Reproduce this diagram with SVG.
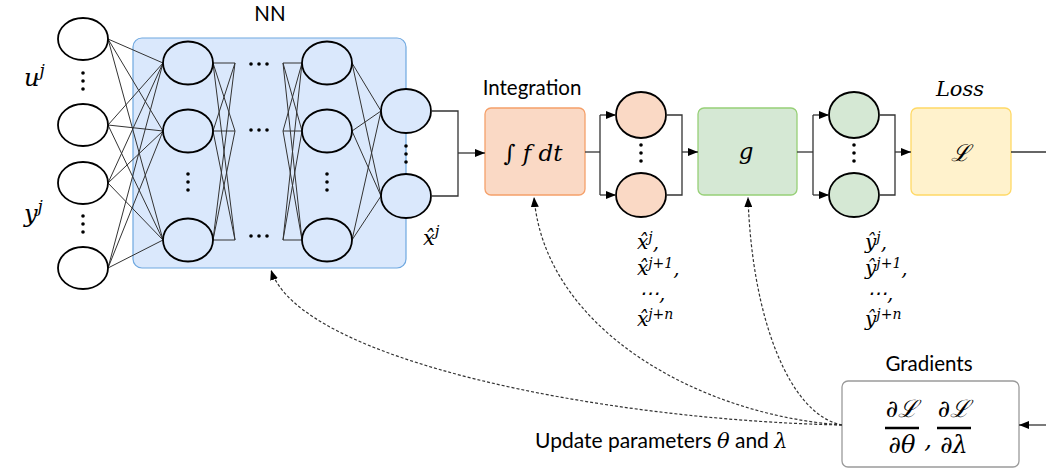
<svg xmlns="http://www.w3.org/2000/svg" width="1046" height="475" viewBox="0 0 1046 475">
<style>
.lbl{font-family:Lato,"Open Sans","Liberation Sans",sans-serif;font-size:20.5px;fill:#000}
.lbl2{font-family:Lato,"Open Sans","Liberation Sans",sans-serif;font-size:21px;fill:#000}
.m{font-family:"DejaVu Serif","Liberation Serif",serif;font-style:italic;fill:#000}
.s20{font-size:20px}
.s21{font-size:21px}
.s23{font-size:23px}
.s24{font-size:24px}
.sup{font-size:15px}
.sup1{font-size:14px}
.sup2{font-size:17px}
.node{stroke:#000;stroke-width:1.8}
.w{fill:#fff}
.b{fill:#dae8fc}
.o{fill:#fad9c5}
.gr{fill:#d5e8d4}
.nn{stroke:#333;stroke-width:1;fill:none}
.c{stroke:#333;stroke-width:1.3;fill:none}
.d{stroke:#333;stroke-width:1.2;fill:none;stroke-dasharray:3 2}
.dot{fill:#000}
</style>
<defs>
<marker id="arr" markerUnits="userSpaceOnUse" markerWidth="10" markerHeight="8" viewBox="0 0 10 8" refX="10" refY="4" orient="auto">
<path d="M0,0 L10,4 L0,8 z" fill="#000"/>
</marker>
</defs>

<!-- NN box -->
<g id="nn-box">
<rect x="133" y="38" width="273" height="230" rx="9" fill="#dae8fc" stroke="#6fa8e0" stroke-width="1.2"/>
<text class="lbl" x="270" y="21" text-anchor="middle">NN</text>
</g>

<!-- NN internal connections -->
<g id="nn-links">
<g class="nn">
<path d="M108,39 L163,63 M108,39 L163,131 M108,39 L163,240
M108,125 L163,63 M108,125 L163,131 M108,125 L163,240
M108,183 L163,63 M108,183 L163,131 M108,183 L163,240
M108,268 L163,63 M108,268 L163,131 M108,268 L163,240"/>
<path d="M213,63 L235,63 M213,63 L235,131 M213,63 L235,240
M213,131 L235,63 M213,131 L235,131 M213,131 L235,240
M213,240 L235,63 M213,240 L235,131 M213,240 L235,240"/>
<path d="M283,63 L302,63 M283,63 L302,131 M283,63 L302,240
M283,131 L302,63 M283,131 L302,131 M283,131 L302,240
M283,240 L302,63 M283,240 L302,131 M283,240 L302,240"/>
<path d="M352,63 L381,111 M352,63 L381,196
M352,131 L381,111 M352,131 L381,196
M352,240 L381,111 M352,240 L381,196"/>
</g>
</g>

<!-- input layer -->
<g id="input-layer">
<ellipse class="node w" cx="83" cy="39" rx="25" ry="21"/>
<ellipse class="node w" cx="83" cy="125" rx="25" ry="21"/>
<ellipse class="node w" cx="83" cy="183" rx="25" ry="21"/>
<ellipse class="node w" cx="83" cy="268" rx="25" ry="21"/>
<circle class="dot" cx="83" cy="73" r="1.8"/><circle class="dot" cx="83" cy="81" r="1.8"/><circle class="dot" cx="83" cy="89" r="1.8"/>
<circle class="dot" cx="83" cy="216" r="1.8"/><circle class="dot" cx="83" cy="224" r="1.8"/><circle class="dot" cx="83" cy="232" r="1.8"/>
<text class="m s24" x="24" y="86">u<tspan class="sup2" dy="-10">j</tspan></text>
<text class="m s24" x="24" y="222">y<tspan class="sup2" dy="-10">j</tspan></text>
</g>

<!-- hidden layer 1 -->
<g id="hidden-1">
<ellipse class="node b" cx="188" cy="63" rx="25" ry="21.5"/>
<ellipse class="node b" cx="188" cy="131" rx="25" ry="21.5"/>
<ellipse class="node b" cx="188" cy="240" rx="25" ry="21.5"/>
<circle class="dot" cx="188" cy="174" r="1.8"/><circle class="dot" cx="188" cy="182" r="1.8"/><circle class="dot" cx="188" cy="190" r="1.8"/>
</g>

<!-- horizontal ellipses -->
<g id="layer-dots">
<circle class="dot" cx="251" cy="64" r="1.8"/><circle class="dot" cx="259" cy="64" r="1.8"/><circle class="dot" cx="267" cy="64" r="1.8"/>
<circle class="dot" cx="251" cy="130" r="1.8"/><circle class="dot" cx="259" cy="130" r="1.8"/><circle class="dot" cx="267" cy="130" r="1.8"/>
<circle class="dot" cx="251" cy="236" r="1.8"/><circle class="dot" cx="259" cy="236" r="1.8"/><circle class="dot" cx="267" cy="236" r="1.8"/>
</g>

<!-- hidden layer last -->
<g id="hidden-n">
<ellipse class="node b" cx="327" cy="63" rx="25" ry="21.5"/>
<ellipse class="node b" cx="327" cy="131" rx="25" ry="21.5"/>
<ellipse class="node b" cx="327" cy="240" rx="25" ry="21.5"/>
<circle class="dot" cx="327" cy="174" r="1.8"/><circle class="dot" cx="327" cy="182" r="1.8"/><circle class="dot" cx="327" cy="190" r="1.8"/>
</g>

<!-- output layer -->
<g id="output-layer">
<ellipse class="node b" cx="406" cy="111" rx="25" ry="22"/>
<ellipse class="node b" cx="406" cy="196" rx="25" ry="22"/>
<circle class="dot" cx="406" cy="146" r="1.8"/><circle class="dot" cx="406" cy="154" r="1.8"/><circle class="dot" cx="406" cy="162" r="1.8"/>
<text class="m s21" x="423" y="245">x&#770;<tspan class="sup" dy="-9">j</tspan></text>
</g>

<!-- Integration -->
<g id="integration">
<text class="lbl" x="532" y="95" text-anchor="middle">Integration</text>
<rect x="485" y="108" width="100" height="87" rx="6" fill="#fad9c5" stroke="#f5a06a" stroke-width="1.3"/>
<text class="m s23" x="533" y="161" text-anchor="middle">∫ f dt</text>
</g>

<!-- x hat outputs -->
<g id="x-series">
<ellipse class="node o" cx="641" cy="115" rx="25" ry="23"/>
<ellipse class="node o" cx="641" cy="195" rx="25" ry="22"/>
<circle class="dot" cx="641" cy="145" r="1.8"/><circle class="dot" cx="641" cy="153" r="1.8"/><circle class="dot" cx="641" cy="161" r="1.8"/>
<text class="m s20"><tspan x="637" y="249">x&#770;</tspan><tspan class="sup1" dy="-7">j</tspan><tspan dy="7">,</tspan><tspan x="637" y="275">x&#770;</tspan><tspan class="sup1" dy="-7">j+1</tspan><tspan dy="7">,</tspan><tspan x="639" y="300">⋯,</tspan><tspan x="637" y="326">x&#770;</tspan><tspan class="sup1" dy="-7">j+n</tspan></text>
</g>

<!-- g -->
<g id="g-box">
<rect x="698" y="108" width="99" height="87" rx="6" fill="#d5e8d4" stroke="#97d077" stroke-width="1.3"/>
<text class="m s23" x="746" y="159" text-anchor="middle">g</text>
</g>

<!-- y hat outputs -->
<g id="y-series">
<ellipse class="node gr" cx="854" cy="115" rx="25" ry="23"/>
<ellipse class="node gr" cx="854" cy="195" rx="25" ry="22"/>
<circle class="dot" cx="854" cy="145" r="1.8"/><circle class="dot" cx="854" cy="153" r="1.8"/><circle class="dot" cx="854" cy="161" r="1.8"/>
<text class="m s20"><tspan x="865" y="249">y&#770;</tspan><tspan class="sup1" dy="-7">j</tspan><tspan dy="7">,</tspan><tspan x="865" y="275">y&#770;</tspan><tspan class="sup1" dy="-7">j+1</tspan><tspan dy="7">,</tspan><tspan x="867" y="300">⋯,</tspan><tspan x="865" y="326">y&#770;</tspan><tspan class="sup1" dy="-7">j+n</tspan></text>
</g>

<!-- Loss -->
<g id="loss">
<text class="m s21" x="960" y="96" text-anchor="middle">Loss</text>
<rect x="911" y="108" width="100" height="87" rx="6" fill="#fff2cc" stroke="#ffd966" stroke-width="1.3"/>
<text class="m s23" x="960" y="161" text-anchor="middle">ℒ</text>
</g>

<!-- Gradients -->
<g id="gradients">
<text class="lbl" x="929" y="371" text-anchor="middle">Gradients</text>
<rect x="842" y="381" width="177" height="86" rx="6" fill="#fff" stroke="#9a9a9a" stroke-width="1.3"/>
<text class="m s24" x="902" y="417" text-anchor="middle">∂ℒ</text>
<line x1="885" y1="428" x2="919" y2="428" stroke="#000" stroke-width="2.4"/>
<text class="m s24" x="902" y="453" text-anchor="middle">∂θ</text>
<text class="m s24" x="928" y="448" text-anchor="middle">,</text>
<text class="m s24" x="954" y="417" text-anchor="middle">∂ℒ</text>
<line x1="937" y1="428" x2="971" y2="428" stroke="#000" stroke-width="2.4"/>
<text class="m s24" x="954" y="453" text-anchor="middle">∂λ</text>
</g>

<!-- update label -->
<g id="update-label">
<text class="lbl2" x="535" y="448">Update parameters <tspan class="m s21">θ</tspan> and <tspan class="m s21">λ</tspan></text>
</g>

<!-- connectors -->
<g id="connectors">
<path class="c" d="M431,111 H458 V196 H431"/>
<path class="c" d="M458,153 H485" marker-end="url(#arr)"/>
<path class="c" d="M585,152 H600"/>
<path class="c" d="M600,115 V195"/>
<path class="c" d="M600,115 H616" marker-end="url(#arr)"/>
<path class="c" d="M600,195 H616" marker-end="url(#arr)"/>
<path class="c" d="M666,115 H682 V195 H666"/>
<path class="c" d="M682,152 H698" marker-end="url(#arr)"/>
<path class="c" d="M797,152 H813"/>
<path class="c" d="M813,115 V195"/>
<path class="c" d="M813,115 H829" marker-end="url(#arr)"/>
<path class="c" d="M813,195 H829" marker-end="url(#arr)"/>
<path class="c" d="M879,115 H895 V195 H879"/>
<path class="c" d="M895,152 H911" marker-end="url(#arr)"/>
<path class="c" d="M1011,152 H1046"/>
<path class="c" d="M1046,425 H1019" marker-end="url(#arr)"/>
<path class="d" d="M842,425 C600,420 300,360 271,270" marker-end="url(#arr)"/>
<path class="d" d="M842,425 C700,415 545,330 534,197" marker-end="url(#arr)"/>
<path class="d" d="M842,425 C790,415 752,320 748,197" marker-end="url(#arr)"/>
</g>
</svg>
